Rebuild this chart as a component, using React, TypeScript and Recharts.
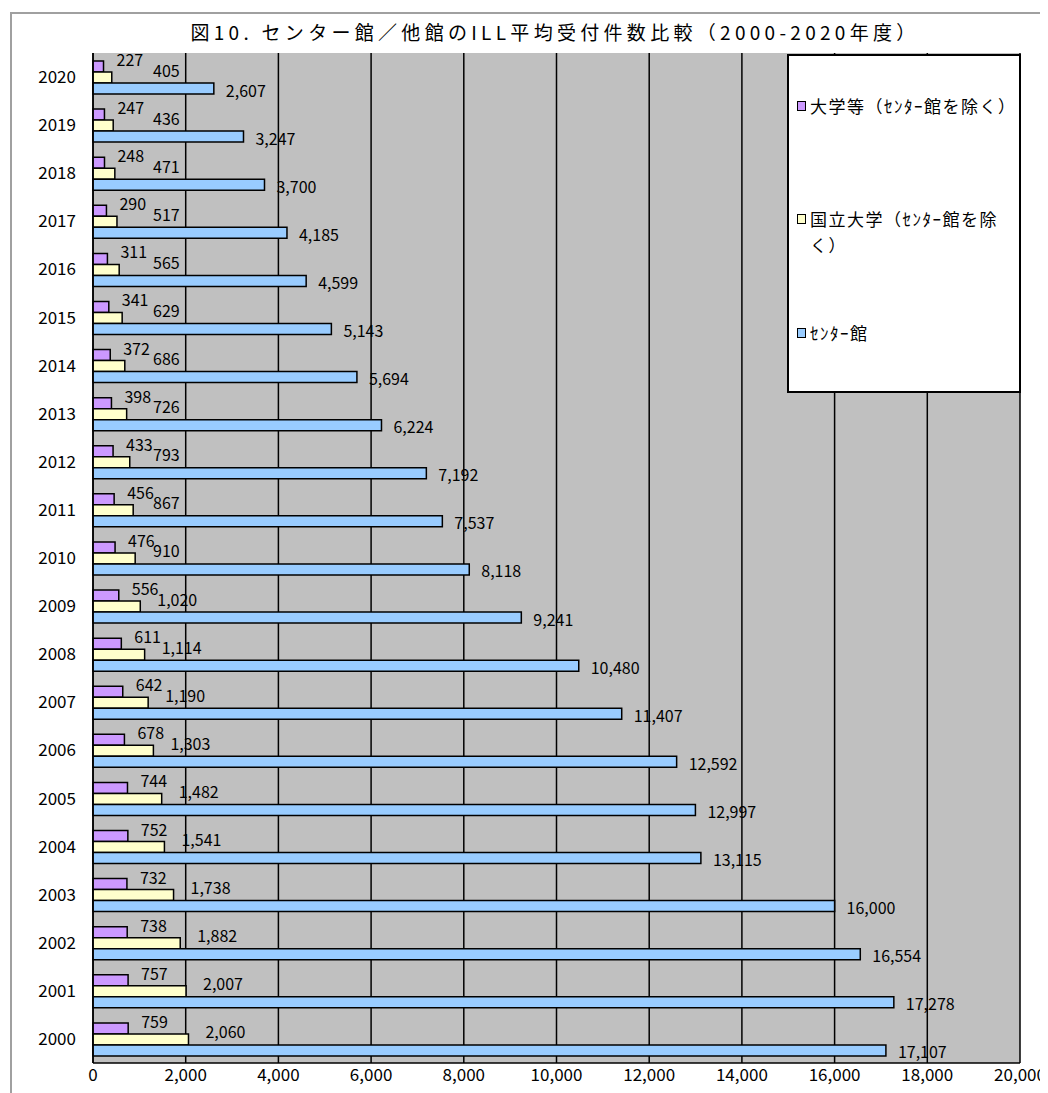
import React from "react"
import { Bar, BarChart, CartesianGrid, LabelList, Legend, XAxis, YAxis } from "recharts"

const years = [
  "2020", "2019", "2018", "2017", "2016", "2015", "2014", "2013", "2012", "2011", "2010",
  "2009", "2008", "2007", "2006", "2005", "2004", "2003", "2002", "2001", "2000",
]

// 大学等（センター館を除く）
const univOther = [
  227, 247, 248, 290, 311, 341, 372, 398, 433, 456, 476,
  556, 611, 642, 678, 744, 752, 732, 738, 757, 759,
]

// 国立大学（センター館を除く）
const national = [
  405, 436, 471, 517, 565, 629, 686, 726, 793, 867, 910,
  1020, 1114, 1190, 1303, 1482, 1541, 1738, 1882, 2007, 2060,
]

// センター館
const center = [
  2607, 3247, 3700, 4185, 4599, 5143, 5694, 6224, 7192, 7537, 8118,
  9241, 10480, 11407, 12592, 12997, 13115, 16000, 16554, 17278, 17107,
]

const xTicks = [0, 2000, 4000, 6000, 8000, 10000, 12000, 14000, 16000, 18000, 20000]

const title = "図10. センター館／他館のILL平均受付件数比較（2000-2020年度）"

const seriesNames = ["大学等（ｾﾝﾀｰ館を除く）", "国立大学（ｾﾝﾀｰ館を除く）", "ｾﾝﾀｰ館"]
const colors = ["#cc99ff", "#ffffcc", "#99ccff"]

const data = years.map((year, i) => ({
  year,
  univOther: univOther[i],
  national: national[i],
  center: center[i],
}))

const font = "'Noto Sans CJK JP', 'Noto Sans', sans-serif"
const fmt = (v: number) => Number(v).toLocaleString("en-US")

function makeLabel(xFn: (x: number, w: number) => number, yFn: (y: number, h: number) => number) {
  return (props: any) => {
    const x = Number(props.x)
    const y = Number(props.y)
    const w = Number(props.width)
    const h = Number(props.height)
    return (
      <text
        x={xFn(x, w)}
        y={yFn(y, h)}
        dominantBaseline="central"
        fontSize={16}
        fontFamily={font}
        fill="#000"
      >
        {fmt(props.value)}
      </text>
    )
  }
}

// label placement roughly follows the excel output
const purpleLabel = makeLabel((x, w) => x + w + 13, (y) => y - 2)
const yellowLabel = makeLabel((x, w) => Math.max(x + w + 17, x + 60), (y, h) => y + h / 2 - 8)
const blueLabel = makeLabel((x, w) => x + w + 12, (y, h) => y + h / 2 + 1)

function LegendBox() {
  const tops = [37, 150, 264]
  return (
    <div style={{ position: "relative", width: "100%", height: "100%", fontFamily: font }}>
      {seriesNames.map((name, i) => (
        <div
          key={name}
          style={{
            position: "absolute",
            top: tops[i],
            left: 8,
            width: 215,
            display: "flex",
            alignItems: "flex-start",
            fontSize: 17,
            letterSpacing: 1.5,
            lineHeight: "26px",
            color: "#000",
          }}
        >
          <span
            style={{
              display: "inline-block",
              width: 7,
              height: 8,
              border: "1px solid #000",
              background: colors[i],
              marginTop: 8,
              marginRight: 4,
              flex: "none",
            }}
          />
          <span>
            {i === 1 ? (
              <>
                国立大学（ｾﾝﾀｰ館を除
                <br />
                く）
              </>
            ) : (
              name
            )}
          </span>
        </div>
      ))}
    </div>
  )
}

export default function App() {
  return (
    <div style={{ position: "relative", width: 1040, height: 1085 }}>
      <div
        style={{
          position: "absolute",
          left: 2,
          top: 4,
          width: 1036,
          height: 1079,
          borderLeft: "2px solid #a0a0a0",
          borderTop: "2px solid #a0a0a0",
        }}
      />
      <div
        style={{
          position: "absolute",
          left: 0,
          top: 12,
          width: 1094,
          textAlign: "center",
          fontFamily: font,
          fontSize: 19,
          letterSpacing: 4.3,
          lineHeight: "24px",
          color: "#000",
        }}
      >
        {title}
      </div>
      <BarChart
        width={1040}
        height={1085}
        data={data}
        layout="vertical"
        margin={{ top: 45, right: 28, bottom: 0, left: 10 }}
        barGap={0}
        barSize={11}
      >
        <CartesianGrid horizontal={false} vertical stroke="#000" strokeWidth={1.5} fill="#c0c0c0" />
        <XAxis
          type="number"
          domain={[0, 20000]}
          ticks={xTicks}
          tickFormatter={fmt}
          axisLine={{ stroke: "#000", strokeWidth: 1.5 }}
          tickLine={false}
          tickSize={6}
          tickMargin={0}
          height={30}
          tick={{ fill: "#000", fontSize: 17, fontFamily: font }}
          interval={0}
        />
        <YAxis
          type="category"
          dataKey="year"
          width={75}
          axisLine={{ stroke: "#000", strokeWidth: 1.5 }}
          tickLine={false}
          tickSize={8}
          tickMargin={9}
          tick={{ fill: "#000", fontSize: 17, fontFamily: font }}
          interval={0}
        />
        <Legend
          layout="horizontal"
          verticalAlign="middle"
          align="center"
          content={() => <LegendBox />}
          wrapperStyle={{
            left: 779,
            top: 46,
            width: 234,
            height: 339,
            border: "2px solid #000",
            background: "#fff",
            boxSizing: "border-box",
          }}
        />
        <Bar dataKey="univOther" name={seriesNames[0]} fill={colors[0]} stroke="#000" strokeWidth={1.5} isAnimationActive={false}>
          <LabelList dataKey="univOther" content={purpleLabel} />
        </Bar>
        <Bar dataKey="national" name={seriesNames[1]} fill={colors[1]} stroke="#000" strokeWidth={1.5} isAnimationActive={false}>
          <LabelList dataKey="national" content={yellowLabel} />
        </Bar>
        <Bar dataKey="center" name={seriesNames[2]} fill={colors[2]} stroke="#000" strokeWidth={1.5} isAnimationActive={false}>
          <LabelList dataKey="center" content={blueLabel} />
        </Bar>
      </BarChart>
    </div>
  )
}
